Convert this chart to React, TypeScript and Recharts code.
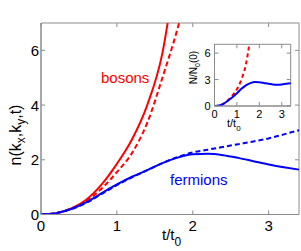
import { LineChart, Line, XAxis, YAxis, ReferenceArea } from 'recharts';

const tValues = [0, 0.2, 0.4, 0.6, 0.8, 1.0, 1.2, 1.4, 1.6, 1.8, 2.0, 2.2, 2.4, 2.6, 2.8, 3.0, 3.2, 3.4];

// main panel
const bosonsSolid = [0, 0.05, 0.22, 0.55, 1.1, 1.85, 2.75, 4.0, 5.9, 9.5, null, null, null, null, null, null, null, null];
const bosonsDashed = [0, 0.05, 0.22, 0.5, 0.95, 1.55, 2.25, 3.35, 5.0, 6.8, 9.0, null, null, null, null, null, null, null];
const fermionsSolid = [0, 0.05, 0.2, 0.45, 0.78, 1.1, 1.38, 1.62, 1.88, 2.08, 2.2, 2.22, 2.17, 2.07, 1.95, 1.83, 1.73, 1.64];
const fermionsDashed = [0, 0.05, 0.2, 0.43, 0.75, 1.07, 1.36, 1.62, 1.88, 2.1, 2.27, 2.37, 2.47, 2.57, 2.67, 2.78, 2.93, 3.08];

// inset panel
const insetBosons = [0, 0.05, 0.25, 0.65, 1.2, 1.9, 3.0, 4.7, 7.8, null, null, null, null, null, null, null, null, null];
const insetFermions = [0, 0.05, 0.25, 0.6, 1.0, 1.45, 1.95, 2.35, 2.6, 2.72, 2.7, 2.62, 2.52, 2.45, 2.42, 2.44, 2.52, 2.58];

const mainXTicks = [0, 1, 2, 3];
const mainYTicks = [0, 2, 4, 6];
const insetXTicks = [0, 1, 2, 3];
const insetYTicks = [0, 3, 6];

const FONT = '"Liberation Sans", Arial, sans-serif';
const FRAME = '#8c8c8c';

const mainData = tValues.map((t, i) => ({
  t,
  bs: bosonsSolid[i],
  bd: bosonsDashed[i],
  fs: fermionsSolid[i],
  fd: fermionsDashed[i],
}));

const insetData = tValues.map((t, i) => ({
  t,
  b: insetBosons[i],
  f: insetFermions[i],
}));

// plot box sizes, used to draw the matlab-style inward ticks on all four sides
const MAIN_H = 191.5;
const MAIN_W = 258;
const INSET_H = 61.7;
const INSET_W = 76.2;

function makeXTick(plotH: number, fontSize: number, dy: number) {
  return (props: any) => {
    const { x, y, payload } = props;
    return (
      <g>
        <line x1={x} x2={x} y1={y} y2={y - 4} stroke={FRAME} />
        <line x1={x} x2={x} y1={y - plotH} y2={y - plotH + 4} stroke={FRAME} />
        <text x={x} y={y + dy} textAnchor='middle' fontSize={fontSize} fontFamily={FONT} fill='#000'>
          {payload.value}
        </text>
      </g>
    );
  };
}

function makeYTick(plotW: number, fontSize: number, dx: number, dy: number) {
  return (props: any) => {
    const { x, y, payload } = props;
    return (
      <g>
        <line x1={x} x2={x + 4} y1={y} y2={y} stroke={FRAME} />
        <line x1={x + plotW} x2={x + plotW - 4} y1={y} y2={y} stroke={FRAME} />
        <text x={x - dx} y={y + dy} textAnchor='end' fontSize={fontSize} fontFamily={FONT} fill='#000'>
          {payload.value}
        </text>
      </g>
    );
  };
}

const MainXTick = makeXTick(MAIN_H, 15, 16);
const MainYTick = makeYTick(MAIN_W, 15, 2, 5.5);
const InsetXTick = makeXTick(INSET_H, 11, 11.5);
const InsetYTick = makeYTick(INSET_W, 11, 4, 4);

export default function App() {
  return (
    <div style={{ position: 'absolute', left: 0, top: 0, width: 301, height: 251, background: '#fff' }}>
      <LineChart width={301} height={251} data={mainData} margin={{ top: 23, right: 2, left: 0, bottom: 0 }}>
        <XAxis
          dataKey='t'
          type='number'
          domain={[0, 3.4]}
          ticks={mainXTicks}
          height={36.5}
          tickSize={0}
          tickMargin={0}
          axisLine={{ stroke: FRAME }}
          tick={MainXTick}
          interval={0}
        />
        <YAxis
          type='number'
          domain={[0, 7]}
          ticks={mainYTicks}
          allowDataOverflow
          width={41}
          tickSize={0}
          tickMargin={0}
          axisLine={{ stroke: FRAME }}
          tick={MainYTick}
          interval={0}
        />
        <ReferenceArea x1={0} x2={3.4} y1={0} y2={7} fill='none' stroke={FRAME} />
        <Line dataKey='bs' type='monotone' stroke='#ff0000' strokeWidth={2} dot={false} isAnimationActive={false} />
        <Line dataKey='bd' type='monotone' stroke='#ff0000' strokeWidth={2} strokeDasharray='5 3' dot={false} isAnimationActive={false} />
        <Line dataKey='fs' type='monotone' stroke='#0000ff' strokeWidth={2} dot={false} isAnimationActive={false} />
        <Line dataKey='fd' type='monotone' stroke='#0000ff' strokeWidth={2} strokeDasharray='5 3' dot={false} isAnimationActive={false} />
      </LineChart>

      <div style={{ position: 'absolute', left: 190, top: 35, width: 105, height: 91, background: '#fff' }}>
        <LineChart width={105} height={91} data={insetData} margin={{ top: 9.3, right: 4.3, left: 0, bottom: 0 }}>
          <XAxis
            dataKey='t'
            type='number'
            domain={[0, 3.4]}
            ticks={insetXTicks}
            height={20}
            tickSize={0}
            tickMargin={0}
            axisLine={{ stroke: FRAME }}
            tick={InsetXTick}
            interval={0}
          />
          <YAxis
            type='number'
            domain={[0, 7]}
            ticks={insetYTicks}
            allowDataOverflow
            width={24.5}
            tickSize={0}
            tickMargin={0}
            axisLine={{ stroke: FRAME }}
            tick={InsetYTick}
            interval={0}
          />
          <ReferenceArea x1={0} x2={3.4} y1={0} y2={7} fill='none' stroke={FRAME} />
          <Line dataKey='b' type='monotone' stroke='#ff0000' strokeWidth={2} strokeDasharray='4 3' dot={false} isAnimationActive={false} />
          <Line dataKey='f' type='monotone' stroke='#0000ff' strokeWidth={2} dot={false} isAnimationActive={false} />
        </LineChart>
      </div>

      <svg width={301} height={251} style={{ position: 'absolute', left: 0, top: 0, pointerEvents: 'none' }} fontFamily={FONT}>
        <text x={101} y={83} fontSize={15} fill='#ff0000'>bosons</text>
        <text x={170} y={185} fontSize={15} fill='#0000ff'>fermions</text>

        <text x={162} y={240} fontSize={15} fill='#000'>
          t/t<tspan fontSize={12} dy={6}>0</tspan>
        </text>
        <text transform='translate(21,135) rotate(-90)' textAnchor='middle' fontSize={16} fill='#000'>
          n(k<tspan fontSize={12} dy={4}>x</tspan>
          <tspan dy={-4}>,k</tspan>
          <tspan fontSize={12} dy={4}>y</tspan>
          <tspan dy={-4}>,t)</tspan>
        </text>

        <text x={227} y={127} fontSize={11} fill='#000'>
          t/t<tspan fontSize={8} dy={4}>0</tspan>
        </text>
        <text transform='translate(197,67.5) rotate(-90)' textAnchor='middle' fontSize={10} fill='#000'>
          N/N<tspan fontSize={7} dy={3}>0</tspan>
          <tspan dy={-3}>(0)</tspan>
        </text>
      </svg>
    </div>
  );
}
